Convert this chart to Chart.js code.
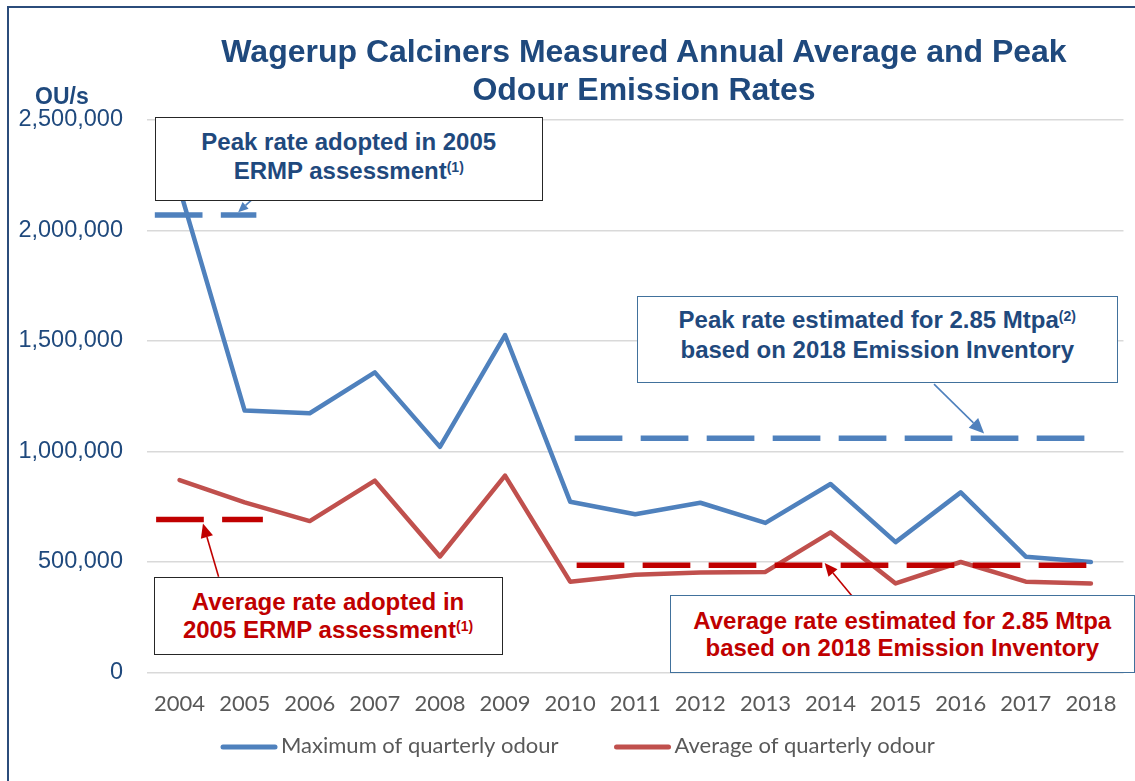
<!DOCTYPE html>
<html>
<head>
<meta charset="utf-8">
<title>Wagerup Calciners odour emission rates</title>
<script src="https://cdn.jsdelivr.net/npm/chart.js@4.4.1/dist/chart.umd.min.js"></script>
<style>
    html, body { margin: 0; padding: 0; background: #fff; }
    body { width: 1135px; height: 781px; position: relative; overflow: hidden; font-family: 'Liberation Sans', Arial, sans-serif; }
    #frame { position: absolute; left: 7px; top: 6px; width: 1300px; height: 900px; border-top: 2px solid #2b4c7b; border-left: 2px solid #2b4c7b; }
    #chart { position: absolute; left: 0; top: 0; }
    .title { position: absolute; left: 144px; top: 32px; width: 1000px; text-align: center; font-weight: bold; font-size: 32px; line-height: 38px; color: #1F497D; white-space: nowrap; }
    .unit { position: absolute; left: 35px; top: 85px; font-weight: bold; font-size: 23px; line-height: 23px; color: #1F497D; }
    .note { position: absolute; box-sizing: border-box; background: #fff; text-align: center; font-weight: bold; font-size: 24px; white-space: nowrap; }
    .note sup { font-size: 14px; vertical-align: 7px; line-height: 0; }
    .blue { color: #1F497D; }
    .red { color: #C00000; }
</style>
</head>
<body>
<div id="frame"></div>
<canvas id="chart" width="1135" height="781"></canvas>
<div class="title">Wagerup Calciners Measured Annual Average and Peak<br>Odour Emission Rates</div>
<div class="unit">OU/s</div>
<div class="note blue" style="left:154.5px; top:117.3px; width:388.5px; height:83.7px; border:1.5px solid #262626; padding-top:9px; line-height:29px;">Peak rate adopted in 2005<br>ERMP assessment<sup>(1)</sup></div>
<div class="note blue" style="left:637px; top:296px; width:480.5px; height:87px; border:1.5px solid #41719C; padding-top:7.5px; line-height:30.5px;">Peak rate estimated for 2.85 Mtpa<sup>(2)</sup><br>based on 2018 Emission Inventory</div>
<div class="note red" style="left:153.5px; top:576.7px; width:349px; height:78.3px; border:1.5px solid #262626; padding-top:10.5px; line-height:27.5px;">Average rate adopted in<br>2005 ERMP assessment<sup>(1)</sup></div>
<div class="note red" style="left:670px; top:595px; width:464.5px; height:77.7px; border:1.5px solid #41719C; padding-top:10.5px; line-height:27.5px;">Average rate estimated for 2.85 Mtpa<br>based on 2018 Emission Inventory</div>
<script>
(function () {
    var years = ['2004', '2005', '2006', '2007', '2008', '2009', '2010', '2011', '2012', '2013', '2014', '2015', '2016', '2017', '2018'];
    var seriesNames = ['Maximum of quarterly odour', 'Average of quarterly odour'];
    var maxOdour = [2190000, 1185000, 1173000, 1358000, 1021000, 1527000, 773000, 716000, 768000, 677000, 853000, 590000, 815000, 524000, 500000];
    var avgOdour = [871000, 770000, 685000, 868000, 525000, 891000, 411000, 442000, 453000, 455000, 634000, 403000, 500000, 411000, 403000];
    var yTicks = [0, 500000, 1000000, 1500000, 2000000, 2500000];

    // dashed reference rates; start/end are fractional positions along the year axis
    var refNames = ['Peak rate 2005 ERMP', 'Peak rate 2.85 Mtpa', 'Average rate 2005 ERMP', 'Average rate 2.85 Mtpa'];
    var refValues = [2070000, 1060000, 692000, 485000];
    var refStart = [-0.38, 6.07, -0.36, 6.10];
    var refEnd = [1.18, 14.17, 1.28, 13.93];
    var refColors = ['#4F81BD', '#4F81BD', '#C00000', '#C00000'];

    // callout arrows, in the same axis units
    var arrowTailIndex = [1.19, 11.59, 0.60, 10.34];
    var arrowTailValue = [2160000, 1305000, 433000, 343000];
    var arrowTipIndex = [0.90, 12.36, 0.36, 9.91];
    var arrowTipValue = [2083000, 1082000, 674000, 495000];
    var arrowColors = ['#4F81BD', '#4F81BD', '#C00000', '#C00000'];
    var arrowHeads = [10, 15, 14, 13];

    var seriesColors = ['#4F81BD', '#C0504D'];

    // legend swatch positions (left end of each line) and row height
    var legendX = [223, 616.5];
    var legendY = 747;
    var legendLine = 52;

    var padLeft = 10;
    var chartLeft = 147;
    var xAxisHeight = 50;
    var padBottom = 781 - 672.5 - xAxisHeight;

    var refDatasets = refValues.map(function (value, i) {
        return {
            label: refNames[i],
            data: [{ x: refStart[i], y: value }, { x: refEnd[i], y: value }],
            xAxisID: 'xRef',
            borderColor: refColors[i],
            backgroundColor: refColors[i],
            borderWidth: 5.5,
            borderDash: [47.7, 18.3],
            borderCapStyle: 'butt',
            pointRadius: 0,
            order: 0
        };
    });

    var arrowPlugin = {
        id: 'noteArrows',
        afterDatasetsDraw: function (chart) {
            var xs = chart.scales.xRef;
            var ys = chart.scales.y;
            var ctx = chart.ctx;
            for (var i = 0; i < arrowTipIndex.length; i++) {
                var x0 = xs.getPixelForValue(arrowTailIndex[i]);
                var y0 = ys.getPixelForValue(arrowTailValue[i]);
                var x1 = xs.getPixelForValue(arrowTipIndex[i]);
                var y1 = ys.getPixelForValue(arrowTipValue[i]);
                var ang = Math.atan2(y1 - y0, x1 - x0);
                var len = arrowHeads[i];
                var bx = x1 - Math.cos(ang) * len;
                var by = y1 - Math.sin(ang) * len;
                var half = len * 0.45;
                ctx.save();
                ctx.strokeStyle = arrowColors[i];
                ctx.fillStyle = arrowColors[i];
                ctx.lineWidth = 1.6;
                ctx.beginPath();
                ctx.moveTo(x0, y0);
                ctx.lineTo(bx, by);
                ctx.stroke();
                ctx.beginPath();
                ctx.moveTo(x1, y1);
                ctx.lineTo(bx + Math.sin(ang) * half, by - Math.cos(ang) * half);
                ctx.lineTo(bx - Math.sin(ang) * half, by + Math.cos(ang) * half);
                ctx.closePath();
                ctx.fill();
                ctx.restore();
            }
        }
    };

    // legend drawn by hand so the two entries sit where the original puts them
    var legendPlugin = {
        id: 'bottomLegend',
        afterDraw: function (chart) {
            var ctx = chart.ctx;
            ctx.save();
            ctx.font = '22px Lato';
            ctx.textBaseline = 'middle';
            ctx.textAlign = 'left';
            for (var i = 0; i < 2; i++) {
                var ds = chart.data.datasets[i];
                ctx.strokeStyle = ds.borderColor;
                ctx.lineWidth = 5;
                ctx.lineCap = 'round';
                ctx.beginPath();
                ctx.moveTo(legendX[i], legendY);
                ctx.lineTo(legendX[i] + legendLine, legendY);
                ctx.stroke();
                ctx.fillStyle = '#595959';
                ctx.fillText(ds.label, legendX[i] + legendLine + 6, legendY - 1);
            }
            ctx.restore();
        }
    };

    Chart.defaults.font.family = 'Lato';

    new Chart(document.getElementById('chart'), {
        type: 'line',
        data: {
            labels: years,
            datasets: [
                {
                    label: seriesNames[0],
                    data: maxOdour,
                    borderColor: seriesColors[0],
                    backgroundColor: seriesColors[0],
                    borderWidth: 4.5,
                    borderCapStyle: 'round',
                    borderJoinStyle: 'round',
                    pointRadius: 0,
                    tension: 0,
                    order: 1
                },
                {
                    label: seriesNames[1],
                    data: avgOdour,
                    borderColor: seriesColors[1],
                    backgroundColor: seriesColors[1],
                    borderWidth: 4.5,
                    borderCapStyle: 'round',
                    borderJoinStyle: 'round',
                    pointRadius: 0,
                    tension: 0,
                    order: 1
                }
            ].concat(refDatasets)
        },
        options: {
            responsive: false,
            animation: false,
            devicePixelRatio: 1,
            layout: {
                padding: { top: 120, left: padLeft, right: 8, bottom: padBottom }
            },
            plugins: {
                title: { display: false },
                tooltip: { enabled: false },
                legend: { display: false }
            },
            scales: {
                x: {
                    type: 'category',
                    offset: true,
                    grid: { display: false, drawTicks: false },
                    border: { display: false },
                    ticks: {
                        color: '#595959',
                        font: { size: 22, family: 'Lato' },
                        padding: 18.3,
                        maxRotation: 0,
                        autoSkip: false
                    },
                    afterFit: function (scale) {
                        scale.height = xAxisHeight;
                    }
                },
                xRef: {
                    type: 'linear',
                    display: false,
                    min: -0.5,
                    max: 14.5
                },
                y: {
                    min: 0,
                    max: 2500000,
                    grid: { color: '#D9D9D9', lineWidth: 1.5, drawTicks: false },
                    border: { display: false },
                    afterBuildTicks: function (axis) {
                        axis.ticks = yTicks.map(function (v) { return { value: v }; });
                    },
                    ticks: {
                        color: '#1F497D',
                        padding: 24,
                        font: { size: 23.5, family: "'Liberation Sans', Arial, sans-serif" },
                        callback: function (value) {
                            return Number(value).toLocaleString('en-US');
                        }
                    },
                    afterFit: function (scale) {
                        scale.width = chartLeft - padLeft;
                    }
                }
            }
        },
        plugins: [arrowPlugin, legendPlugin]
    });
})();
</script>
</body>
</html>
